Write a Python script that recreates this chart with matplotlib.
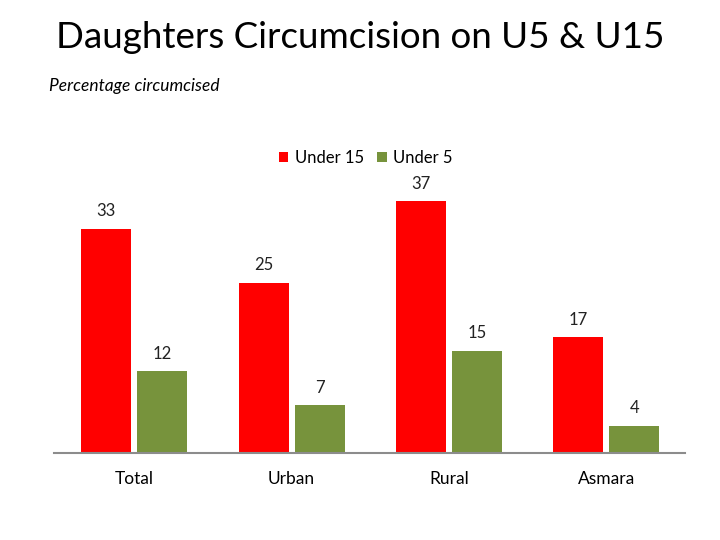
import matplotlib
matplotlib.use("Agg")
import matplotlib.pyplot as plt
import numpy as np

categories = ["Total", "Urban", "Rural", "Asmara"]
under15 = [33, 25, 37, 17]
under5 = [12, 7, 15, 4]

plt.rcParams['font.family'] = ['Lato', 'DejaVu Sans']

fig = plt.figure(figsize=(7.2, 5.4), dpi=100)
ax = fig.add_axes([54/720, 87/540, (685-54)/720, (453-181)/540])

x = np.arange(len(categories))
w = 0.317
off = 0.178
red = "#FF0000"
green = "#77933C"
b1 = ax.bar(x - off, under15, w, color=red, label="Under 15")
b2 = ax.bar(x + off, under5, w, color=green, label="Under 5")

for bars, vals in ((b1, under15), (b2, under5)):
    for b, v in zip(bars, vals):
        ax.annotate(str(v), (b.get_x() + b.get_width()/2, v), xytext=(0, 7),
                    textcoords="offset points", ha="center", va="bottom",
                    fontsize=12, color="#222222")

ax.set_xlim(-0.51, 3.5)
ax.set_ylim(0, 40)
ax.set_xticks(x)
ax.set_xticklabels(categories, fontsize=12.5)
ax.tick_params(axis='x', length=0, pad=13)
ax.set_yticks([])
for s in ("top", "right", "left"):
    ax.spines[s].set_visible(False)
ax.spines["bottom"].set_color("#8c8c8c")
ax.spines["bottom"].set_linewidth(1.5)

fig.legend(handles=[b1, b2], loc="center", bbox_to_anchor=(366/720, 1 - 158/540),
           ncol=2, frameon=False, fontsize=12, handlelength=0.55, handleheight=0.55,
           handletextpad=0.4, columnspacing=0.8)

fig.text(360/720, 1 - 37/540, "Daughters Circumcision on U5 & U15", ha="center", va="center",
         fontsize=26.5, color="black")
fig.text(49/720, 1 - 86/540, "Percentage circumcised", ha="left", va="center",
         fontsize=12.5, style="italic")

fig.savefig("out.png", dpi=100)
